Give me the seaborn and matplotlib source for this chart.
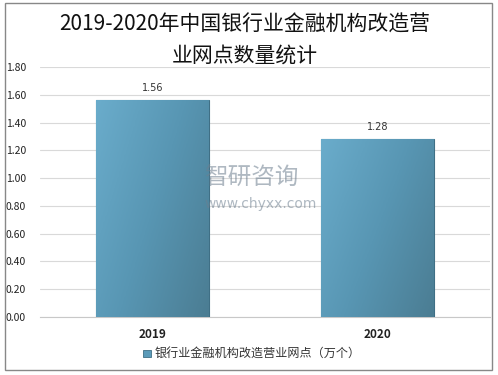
import numpy as np
import pandas as pd
import seaborn as sns
import matplotlib.pyplot as plt
from matplotlib.patches import Rectangle
from matplotlib.colors import LinearSegmentedColormap

years = ["2019", "2020"]
values = [1.56, 1.28]
series_name = "银行业金融机构改造营业网点（万个）"
title = "2019-2020年中国银行业金融机构改造营\n业网点数量统计"

df = pd.DataFrame({"year": years, "value": values})

sns.set_theme(style="white")
plt.rcParams["font.family"] = ["Noto Sans CJK SC", "DejaVu Sans"]

fig = plt.figure(figsize=(4.98, 3.75), dpi=100)
ax = fig.add_axes([0.080, 0.1547, 0.904, 0.6666])

sns.barplot(data=df, x="year", y="value", color="#5b9bb9", width=0.5,
            edgecolor="#3f6f85", linewidth=0.8, ax=ax, zorder=3)

# diagonal gradient on bars: light top-left, dark bottom-right
cmap = LinearSegmentedColormap.from_list("bar", ["#6aaccb", "#5896b3", "#4b7d93"])
grad = np.linspace(0, 1, 64).reshape(1, -1) + np.linspace(0, 0.6, 64).reshape(-1, 1)
for bar in ax.patches:
    x0, y0 = bar.get_x(), bar.get_y()
    w, h = bar.get_width(), bar.get_height()
    im = ax.imshow(grad, extent=[x0, x0 + w, y0, y0 + h], cmap=cmap,
                   aspect="auto", origin="upper", zorder=3.5, vmin=0, vmax=1.6)
    im.set_clip_path(bar)
    ax.text(x0 + w / 2, h + 0.05, f"{h:.2f}", ha="center", va="bottom",
            fontsize=7, color="#333333", family=["DejaVu Sans"])

ax.set_xlim(-0.5, 1.5)
ax.set_ylim(0, 1.8)
ax.set_yticks(np.arange(0, 1.81, 0.2))
ax.set_yticklabels([f"{v:.2f}" for v in np.arange(0, 1.81, 0.2)],
                   fontsize=7.5, color="#222222")
ax.tick_params(axis="y", length=0, pad=10)
ax.set_xticks([0, 1])
ax.set_xticklabels(years, fontsize=8.5, fontweight="bold", color="#222222")
ax.tick_params(axis="x", length=0, pad=8)
ax.set_xlabel("")
ax.set_ylabel("")
ax.grid(axis="y", color="#d9d9d9", linewidth=0.8, zorder=0)
for s in ["left", "right", "top"]:
    ax.spines[s].set_visible(False)
ax.spines["bottom"].set_color("#c8c8c8")
ax.spines["bottom"].set_linewidth(0.8)

fig.text(0.492, 0.893, title, ha="center", va="center", fontsize=15,
         fontweight="medium", color="#111111", linespacing=1.5)

# legend
fig.patches.append(Rectangle((0.288, 0.048), 0.016, 0.019, transform=fig.transFigure,
                             facecolor="#5b9bb9", edgecolor="#3f6f85", linewidth=0.6))
fig.text(0.310, 0.059, series_name, ha="left", va="center", fontsize=8.7,
         fontweight="medium", color="#333333")

# watermark
fig.text(0.41, 0.525, "智研咨询", ha="left", va="center", fontsize=17,
         color="#6d7f8f", alpha=0.55)
fig.text(0.41, 0.455, "www.chyxx.com", ha="left", va="center", fontsize=10,
         color="#6d7f8f", alpha=0.55, family=["DejaVu Sans"])

# outer border
fig.patches.append(Rectangle((0.010, 0.013), 0.978, 0.979, transform=fig.transFigure,
                             fill=False, edgecolor="#888888", linewidth=1.0))

fig.savefig("out.png", dpi=100)
